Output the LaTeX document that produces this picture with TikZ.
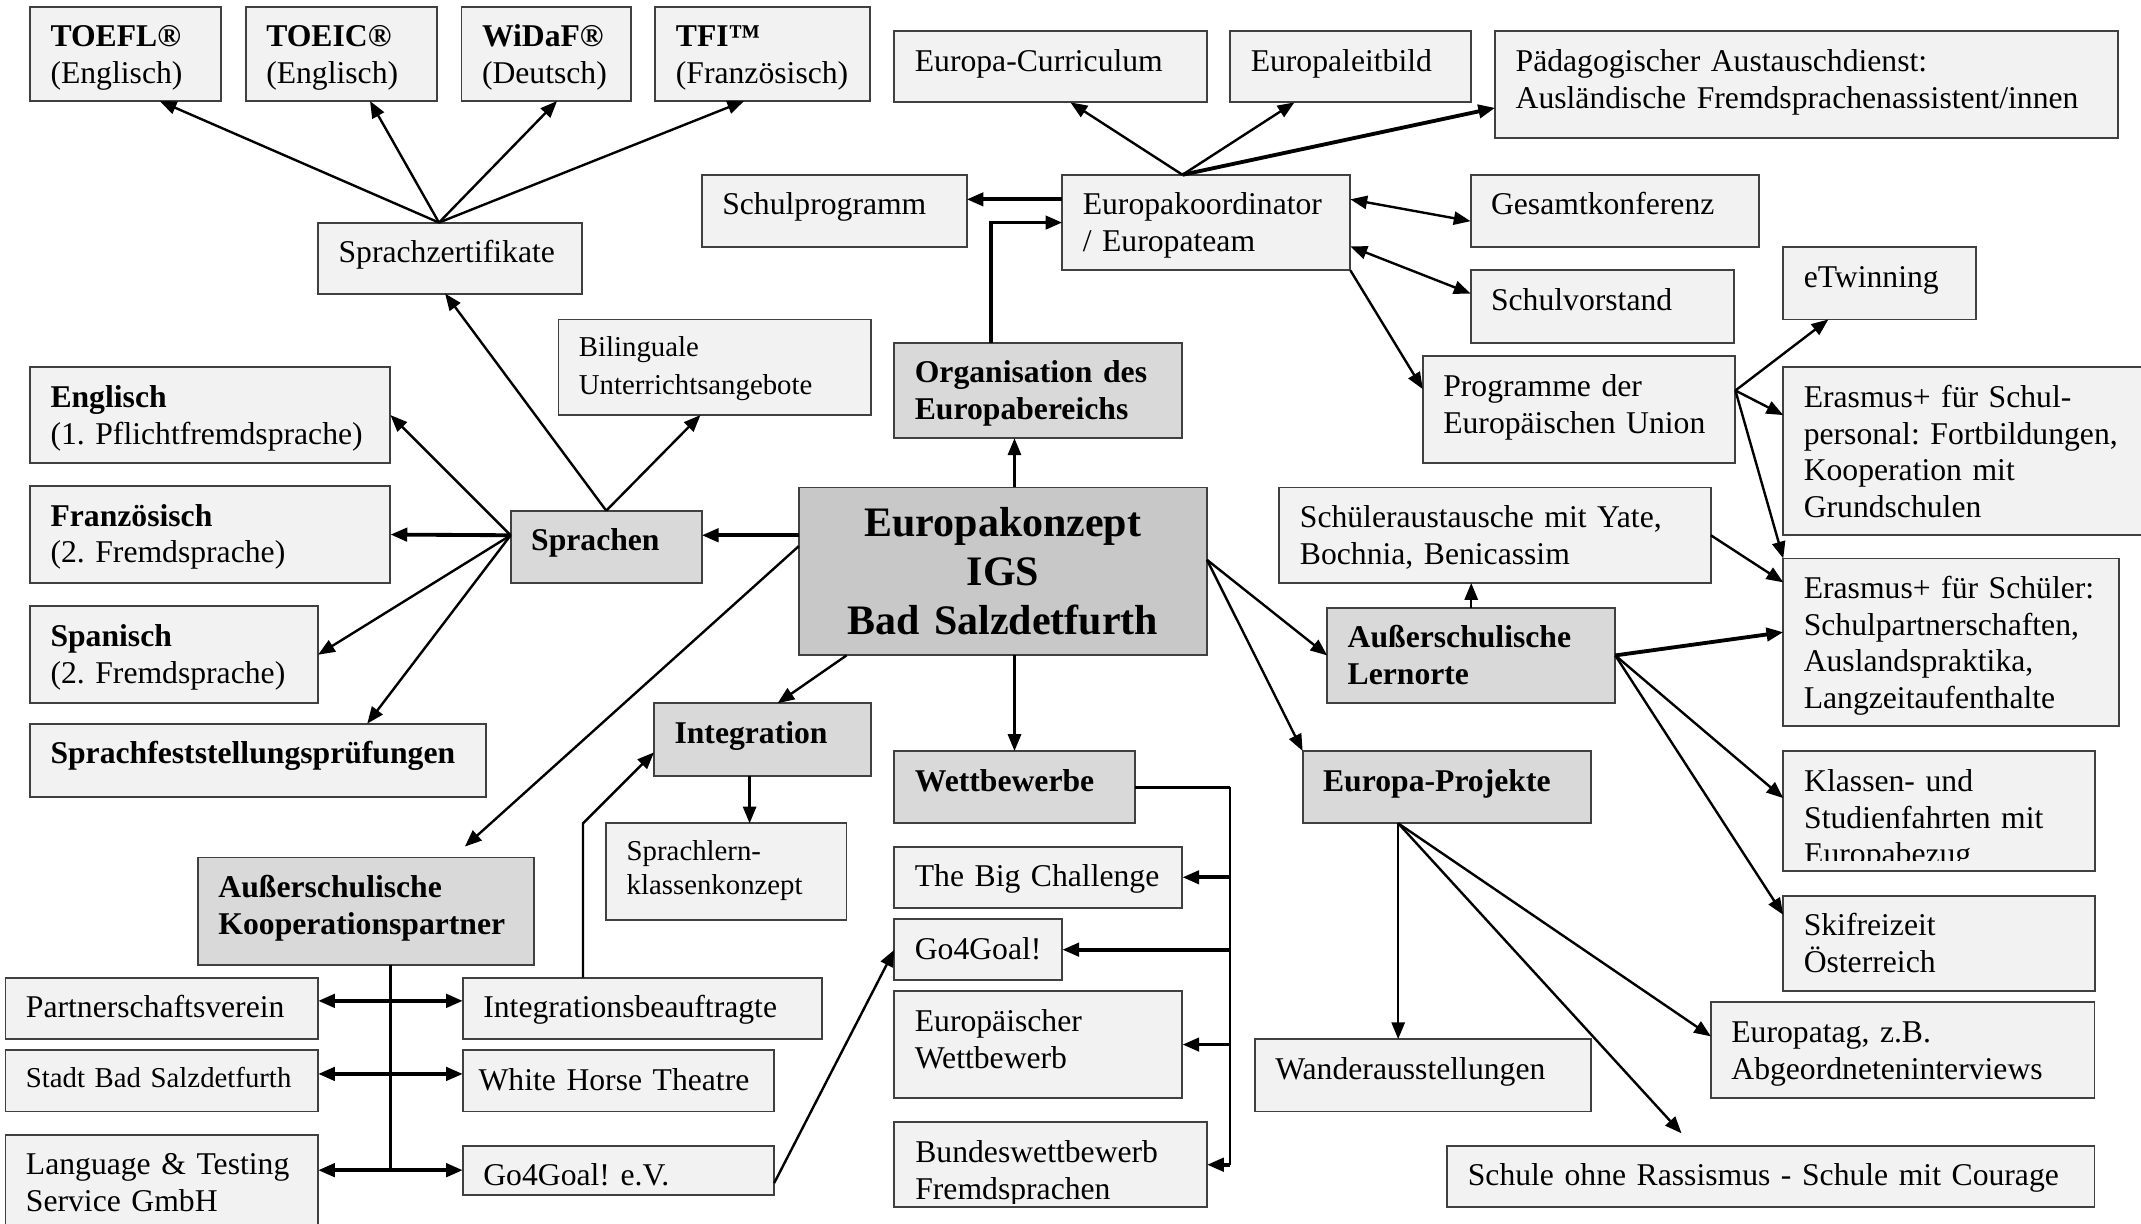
\documentclass[tikz,border=0pt]{standalone}
\usepackage{fontspec}
\setmainfont{Liberation Serif}
\usetikzlibrary{arrows.meta, calc}
\definecolor{boxFill}{RGB}{242,242,242}
\definecolor{catFill}{RGB}{217,217,217}
\definecolor{mainFill}{RGB}{200,200,200}
\definecolor{boxLine}{RGB}{64,64,64}
\newcommand{\dgmfont}{\fontsize{13.2}{15.3}\selectfont}
\frenchspacing

\tikzset{
  lightbox/.style={draw=boxLine, fill=boxFill, line width=0.8pt, anchor=north west,
    inner xsep=0.3cm, inner ysep=0pt, outer sep=0pt, align=left, text height=16.7pt},
  bh/.style={text depth=#1-16.7pt},
  catbox/.style={lightbox, fill=catFill, font=\dgmfont\bfseries},
  mainbox/.style={draw=boxLine, fill=mainFill, line width=0.8pt, anchor=north west,
    inner xsep=0.3cm, inner ysep=0pt, outer sep=0pt, align=center,
    font=\fontsize{17.5}{20.4}\selectfont\bfseries},
  cliptext/.style={anchor=north west, inner xsep=0.3cm, inner ysep=0pt, align=left,
    text height=16.7pt, text depth=0pt},
  smalltext/.style={font=\fontsize{12}{14.2}\selectfont, text height=15.5pt},
  link/.style={->, line width=1pt},
  boldlink/.style={->, line width=1.6pt},
  twolink/.style={<->, line width=1.6pt},
}

\begin{document}
\begin{tikzpicture}[x=0.02cm, y=-0.02cm, >={Triangle[length=7pt, width=5.5pt]}, font=\dgmfont]
  \useasboundingbox (0,0) rectangle (1568,896);

  % Sprachzertifikate
  \node[lightbox, text width=2.2cm, bh=1.38cm] (toefl) at (22,5) {\textbf{TOEFL®}\\(Englisch)};
  \node[lightbox, text width=2.2cm, bh=1.38cm] (toeic) at (180,5) {\textbf{TOEIC®}\\(Englisch)};
  \node[lightbox, text width=1.88cm, bh=1.38cm] (widaf) at (338,5) {\textbf{WiDaF®}\\(Deutsch)};
  \node[lightbox, text width=2.54cm, bh=1.38cm] (tfi) at (480,5) {\textbf{TFI™}\\(Französisch)};
  \node[lightbox, text width=3.26cm, bh=1.04cm] (zert) at (233,163) {Sprachzertifikate};

  % Sprachen
  \node[lightbox, text width=3.98cm, smalltext, font=\fontsize{12}{15.9}\selectfont, text depth=1.4cm-15.5pt] (biling) at (409,234) {Bilinguale\\Unterrichtsangebote};
  \node[catbox, text width=2.2cm, bh=1.06cm] (sprachen) at (374,374) {Sprachen};
  \node[lightbox, text width=4.68cm, bh=1.4cm] (englisch) at (22,269) {\textbf{Englisch}\\(1. Pflichtfremdsprache)};
  \node[lightbox, text width=4.68cm, bh=1.42cm] (franz) at (22,356) {\textbf{Französisch}\\(2. Fremdsprache)};
  \node[lightbox, text width=3.62cm, bh=1.42cm] (spanisch) at (22,444) {\textbf{Spanisch}\\(2. Fremdsprache)};
  \node[lightbox, text width=6.08cm, bh=1.08cm] (feststell) at (22,530) {\textbf{Sprachfeststellungsprüfungen}};

  % Europakonzept
  \node[mainbox, text width=5.38cm, minimum height=2.46cm] (konzept) at (585,357) {Europakonzept\\IGS\\Bad Salzdetfurth};

  % Organisation
  \node[catbox, text width=3.62cm, bh=1.4cm] (orga) at (655,251) {Organisation des\\Europabereichs};
  \node[lightbox, text width=3.62cm, bh=1.4cm] (koord) at (778,128) {Europakoordinator\\/ Europateam};
  \node[lightbox, text width=3.28cm, bh=1.06cm] (schulprog) at (514,128) {Schulprogramm};
  \node[lightbox, text width=3.98cm, bh=1.04cm] (curric) at (655,23) {Europa-Curriculum};
  \node[lightbox, text width=2.92cm, bh=1.04cm] (leitbild) at (901,23) {Europaleitbild};
  \node[lightbox, text width=8.52cm, bh=1.56cm] (pad) at (1095,23) {Pädagogischer Austauschdienst:\\Ausländische Fremdsprachenassistent/innen};
  \node[lightbox, text width=3.62cm, bh=1.06cm] (gesamt) at (1077,128) {Gesamtkonferenz};
  \node[lightbox, text width=3.26cm, bh=1.06cm] (vorstand) at (1077,198) {Schulvorstand};
  \node[lightbox, text width=3.98cm, bh=1.56cm] (programme) at (1042,261) {Programme der\\Europäischen Union};
  \node[lightbox, text width=2.22cm, bh=1.06cm] (etwin) at (1306,181) {eTwinning};
  \node[lightbox, text width=4.84cm, bh=2.46cm] (eraspers) at (1306,269) {Erasmus+ für Schul-\\personal: Fortbildungen,\\Kooperation mit\\Grundschulen};

  % Lernorte
  \node[lightbox, text width=5.72cm, bh=1.4cm] (austausch) at (937,357) {Schüleraustausche mit Yate,\\Bochnia, Benicassim};
  \node[catbox, text width=3.62cm, bh=1.4cm] (lernorte) at (972,445) {Außerschulische\\Lernorte};
  \node[lightbox, text width=4.32cm, bh=2.46cm] (erassch) at (1306,409) {Erasmus+ für Schüler:\\Schulpartnerschaften,\\Auslandspraktika,\\Langzeitaufenthalte};
  \node[lightbox, minimum width=4.56cm, minimum height=1.76cm] (klassen) at (1306,550) {};
  \begin{scope}
    \clip ([yshift=0.16cm]klassen.south west) rectangle (klassen.north east);
    \node[cliptext, text width=3.96cm] (klassentxt) at (klassen.north west) {Klassen- und\\Studienfahrten mit\\Europabezug};
  \end{scope}
  \node[lightbox, text width=3.96cm, bh=1.4cm] (ski) at (1306,656) {Skifreizeit\\Österreich};

  % Projekte
  \node[catbox, text width=3.62cm, bh=1.06cm] (projekte) at (954,550) {Europa-Projekte};
  \node[lightbox, text width=4.32cm, bh=1.06cm] (wander) at (919,761) {Wanderausstellungen};
  \node[lightbox, text width=5.02cm, bh=1.4cm] (europatag) at (1253,734) {Europatag, z.B.\\Abgeordneteninterviews};
  \node[lightbox, text width=8.88cm, bh=0.9cm] (rassismus) at (1060,839) {Schule ohne Rassismus - Schule mit Courage};

  % Wettbewerbe
  \node[catbox, text width=2.92cm, bh=1.06cm] (wettb) at (655,550) {Wettbewerbe};
  \node[lightbox, text width=3.62cm, bh=0.9cm] (bigch) at (655,620) {The Big Challenge};
  \node[lightbox, text width=1.86cm, bh=0.9cm] (go4) at (655,673) {Go4Goal!};
  \node[lightbox, text width=3.62cm, bh=1.56cm] (euwett) at (655,726) {Europäischer\\Wettbewerb};
  \node[lightbox, minimum width=4.58cm, minimum height=1.24cm] (bundes) at (655,822) {};
  \begin{scope}
    \clip ([yshift=0.05cm]bundes.south west) rectangle (bundes.north east);
    \node[cliptext, text width=3.98cm] (bundestxt) at (bundes.north west) {Bundeswettbewerb\\Fremdsprachen};
  \end{scope}

  % Integration
  \node[catbox, text width=2.58cm, bh=1.06cm] (integ) at (479,515) {Integration};
  \node[lightbox, text width=2.92cm, smalltext, text depth=1.42cm-15.5pt] (sprlern) at (444,603) {Sprachlern-\\klassenkonzept};

  % Kooperationspartner
  \node[catbox, text width=4.32cm, bh=1.58cm] (koop) at (145,628) {Außerschulische\\Kooperationspartner};
  \node[lightbox, text width=3.98cm, bh=0.9cm] (partner) at (4,716) {Partnerschaftsverein};
  \node[lightbox, text width=3.98cm, smalltext, text depth=0.9cm-15.5pt] (stadt) at (4,769) {Stadt Bad Salzdetfurth};
  \node[lightbox, text width=3.98cm, bh=1.38cm] (language) at (4,831) {Language \& Testing\\Service GmbH};
  \node[lightbox, text width=4.66cm, bh=0.9cm] (intbeauf) at (339,716) {Integrationsbeauftragte};
  \node[lightbox, text width=4.1cm, inner xsep=0.23cm, bh=0.9cm] (whitehorse) at (339,769) {White Horse Theatre};
  \node[lightbox, text width=3.96cm, bh=0.72cm] (go4ev) at (339,839) {Go4Goal! e.V.};

  % Pfeile Sprachzertifikate
  \coordinate (zertN) at ([xshift=-0.16cm]zert.north);
  \draw[link] (zertN) -- ([xshift=0.5cm]toefl.south);
  \draw[link] (zertN) -- ([xshift=0.42cm]toeic.south);
  \draw[link] (zertN) -- ([xshift=0.16cm]widaf.south);
  \draw[link] (zertN) -- ([xshift=-0.27cm]tfi.south);

  % Pfeile Sprachen
  \draw[link] (sprachen.north) -- ([xshift=-0.07cm]zert.south);
  \draw[link] (sprachen.north) -- ([xshift=-0.21cm]biling.south);
  \coordinate (sprW) at ([yshift=0.17cm]sprachen.west);
  \draw[link] (sprW) -- (englisch.east);
  \draw[boldlink] (sprW) -- (franz.east);
  \draw[link] (sprW) -- (spanisch.east);
  \draw[link] (sprW) -- ([xshift=1.6cm]feststell.north);

  % Pfeile Europakonzept
  \draw[boldlink] (konzept.west |- sprW) -- (sprachen.east |- sprW);
  \draw[link] ([yshift=0.37cm]konzept.west) -- ([xshift=1.45cm, yshift=0.16cm]koop.north);
  \draw[link] ([xshift=-2.29cm]konzept.south) -- ([xshift=0.22cm]integ.north);
  \coordinate (konzeptN) at ([xshift=0.17cm]konzept.north);
  \draw[link] (konzeptN) -- (konzeptN |- orga.south);
  \draw[link] (konzept.south -| wettb.north) -- (wettb.north);
  \coordinate (konzeptE) at ([yshift=0.17cm]konzept.east);
  \draw[link] (konzeptE) -- (lernorte.west);
  \draw[link] (konzeptE) -- (projekte.north west);

  % Pfeile Organisation
  \draw[boldlink] ([xshift=-0.69cm]orga.north) |- (koord.west);
  \coordinate (koordW) at ([yshift=0.34cm]koord.west);
  \draw[boldlink] (koordW) -- (koordW -| schulprog.east);
  \coordinate (koordN) at ([xshift=-0.35cm]koord.north);
  \draw[link] (koordN) -- ([xshift=0.29cm]curric.south);
  \draw[link] (koordN) -- ([xshift=-0.82cm]leitbild.south);
  \draw[boldlink] (koordN) -- ([yshift=-0.34cm]pad.west);
  \draw[link, <->] ([yshift=0.34cm]koord.east) -- ([yshift=-0.15cm]gesamt.west);
  \draw[link, <->] ([yshift=-0.35cm]koord.east) -- ([yshift=0.19cm]vorstand.west);
  \draw[link] (koord.south east) -- ([yshift=0.3cm]programme.west);

  % Pfeile Programme
  \coordinate (progE) at ([yshift=0.28cm]programme.east);
  \draw[link] (progE) -- ([xshift=-0.75cm]etwin.south);
  \draw[link] (progE) -- ([yshift=0.53cm]eraspers.west);
  \draw[link] (progE) -- (erassch.north west);

  % Pfeile Lernorte
  \draw[link] (lernorte.north) -- (lernorte.north |- austausch.south);
  \draw[link] (austausch.east) -- ([yshift=0.88cm]erassch.west);
  \draw[boldlink] (lernorte.east) -- ([yshift=0.15cm]erassch.west);
  \draw[link] (lernorte.east) -- ([yshift=0.19cm]klassen.west);
  \draw[link] (lernorte.east) -- ([yshift=0.42cm]ski.west);

  % Pfeile Projekte
  \coordinate (projS) at ([xshift=-0.71cm]projekte.south);
  \draw[link] (projS) -- (projS |- wander.north);
  \draw[link] (projS) -- ([yshift=0.2cm]europatag.west);
  \draw[link] (projS) -- ([xshift=-1.31cm, yshift=0.18cm]rassismus.north);

  % Pfeile Wettbewerbe
  \coordinate (wbus) at ([xshift=1.4cm]wettb.east);
  \draw[line width=1.3pt] (wettb.east) -- (wbus);
  \draw[line width=1pt] (wbus) -- (wbus |- bundes.east);
  \foreach \n in {bigch, go4, euwett, bundes}
    \draw[boldlink] (wbus |- \n.east) -- (\n.east);
  \draw[link] ([yshift=-0.19cm]go4ev.east) -- (go4.west);

  % Pfeile Integration
  \coordinate (integS) at ([xshift=-0.19cm]integ.south);
  \draw[link] (integS) -- (integS |- sprlern.north);
  \draw[link] ([xshift=-0.87cm]intbeauf.north) -- ++(0,2.26cm) -- ([yshift=-0.19cm]integ.west);

  % Pfeile Kooperationspartner
  \coordinate (kbus) at ([xshift=0.36cm]koop.south);
  \draw[line width=1pt] (kbus) -- (kbus |- go4ev.west);
  \draw[twolink] ([yshift=0.11cm]partner.east) -- ([yshift=0.11cm]intbeauf.west);
  \draw[twolink] ([yshift=0.1cm]stadt.east) -- ([yshift=0.1cm]whitehorse.west);
  \draw[twolink] (language.east |- go4ev.west) -- (go4ev.west);
\end{tikzpicture}
\end{document}
